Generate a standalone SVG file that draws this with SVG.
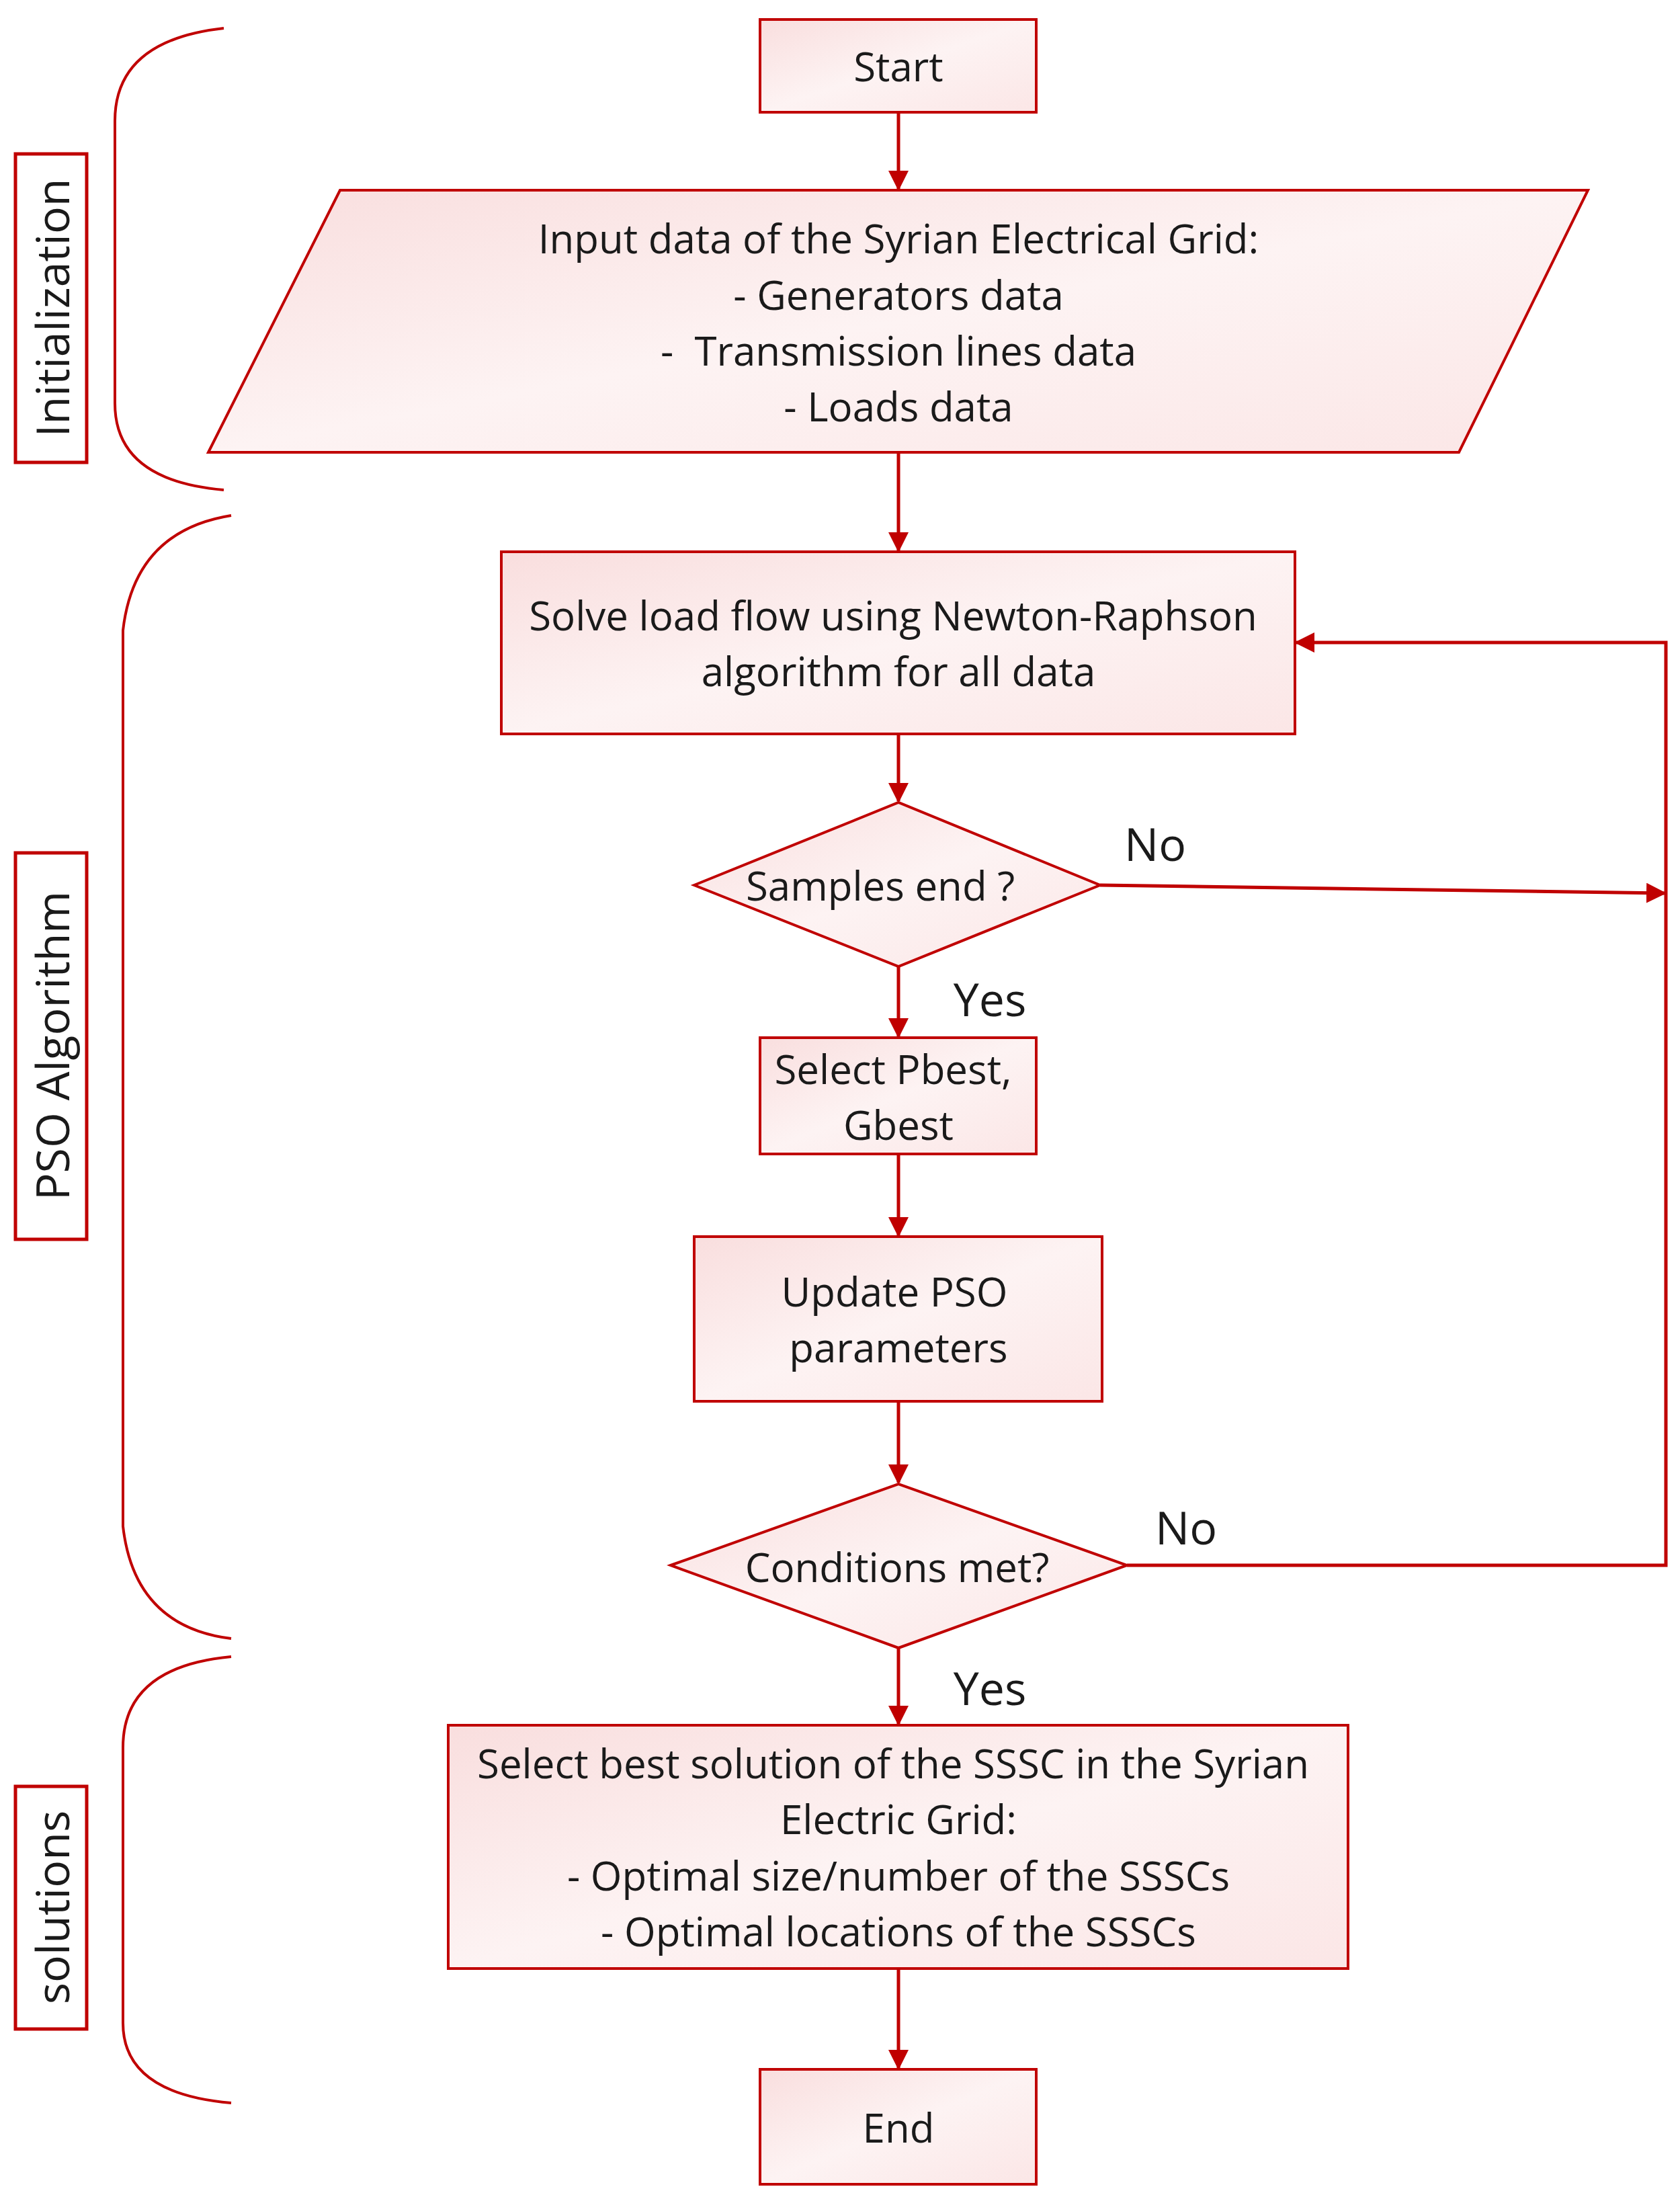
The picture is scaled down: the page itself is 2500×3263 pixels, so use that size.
<svg xmlns="http://www.w3.org/2000/svg" width="2500" height="3263" viewBox="0 0 2500 3263">
<defs>
<linearGradient id="g" x1="0" y1="0" x2="1" y2="1"><stop offset="0" stop-color="#f9dede"/><stop offset="0.5" stop-color="#fdf3f3"/><stop offset="1" stop-color="#fbe6e6"/></linearGradient>
<marker id="a" viewBox="0 0 10 10" refX="9" refY="5" markerWidth="6" markerHeight="6" orient="auto"><path d="M0,0 L10,5 L0,10 z" fill="#c00000"/></marker>
<style>
.n{fill:url(#g);stroke:#c00000;stroke-width:4}
.c{fill:none;stroke:#c00000;stroke-width:5}
.b{fill:none;stroke:#c00000;stroke-width:4}
.l{fill:#fff;stroke:#c00000;stroke-width:5}
text{font-family:"Open Sans","Liberation Sans",sans-serif;font-size:60px;fill:#1a1a1a;text-anchor:middle;dominant-baseline:central}
.s{font-size:68px}
</style>
</defs>
<rect width="2500" height="3263" fill="#fff"/>
<g id="brackets">
<path class="b" d="M333,42 Q171,60 171,180 L171,600 Q171,715 333,729"/>
<path class="b" d="M344,767 Q200,790 183,938 L183,2271 Q200,2420 344,2438"/>
<path class="b" d="M344,2465 Q183,2480 183,2600 L183,3010 Q183,3115 344,3129"/>
</g>
<g id="lab-init"><rect class="l" x="23" y="229" width="106" height="459"/><text class="s" transform="translate(76,458) rotate(-90)">Initialization</text></g>
<g id="lab-pso"><rect class="l" x="23" y="1269" width="106" height="575"/><text class="s" transform="translate(76,1556) rotate(-90)">PSO Algorithm</text></g>
<g id="lab-sol"><rect class="l" x="23" y="2658" width="106" height="361"/><text class="s" transform="translate(76,2838) rotate(-90)">solutions</text></g>
<g id="connectors">
<line class="c" x1="1337" y1="167" x2="1337" y2="281" marker-end="url(#a)"/>
<line class="c" x1="1337" y1="673" x2="1337" y2="819" marker-end="url(#a)"/>
<line class="c" x1="1337" y1="1092" x2="1337" y2="1192" marker-end="url(#a)"/>
<line class="c" x1="1337" y1="1438" x2="1337" y2="1542" marker-end="url(#a)"/>
<line class="c" x1="1337" y1="1717" x2="1337" y2="1838" marker-end="url(#a)"/>
<line class="c" x1="1337" y1="2085" x2="1337" y2="2206" marker-end="url(#a)"/>
<line class="c" x1="1337" y1="2452" x2="1337" y2="2565" marker-end="url(#a)"/>
<line class="c" x1="1337" y1="2929" x2="1337" y2="3077" marker-end="url(#a)"/>
<path class="c" d="M1637,1317 L2477,1329" marker-end="url(#a)"/>
<path class="c" d="M1677,2329 L2479,2329 L2479,956 L1929,956" marker-end="url(#a)"/>
<rect x="1640" y="1205" width="150" height="95" fill="#fff"/>
<text x="1719" y="1254" class="s">No</text>
<rect x="1685" y="2220" width="150" height="95" fill="#fff"/>
<text x="1765" y="2271" class="s">No</text>
<rect x="1395" y="1440" width="150" height="90" fill="#fff"/>
<text x="1473" y="1485" class="s">Yes</text>
<rect x="1395" y="2465" width="150" height="90" fill="#fff"/>
<text x="1473" y="2510" class="s">Yes</text>
</g>
<g id="start"><rect class="n" x="1131" y="29" width="411" height="138"/><text x="1337" y="98">Start</text></g>
<g id="input"><polygon class="n" points="506,283 2363,283 2171,673 310,673"/>
<text x="1337" y="354">Input data of the Syrian Electrical Grid:</text>
<text x="1337" y="438">- Generators data</text>
<text x="1337" y="521" xml:space="preserve">-  Transmission lines data</text>
<text x="1337" y="604">- Loads data</text></g>
<g id="solve"><rect class="n" x="746" y="821" width="1181" height="271"/><text x="1329" y="915">Solve load flow using Newton-Raphson</text><text x="1337" y="998">algorithm for all data</text></g>
<g id="samples"><polygon class="n" points="1033,1317 1337,1194 1637,1317 1337,1438"/><text x="1310" y="1317">Samples end ?</text></g>
<g id="select"><rect class="n" x="1131" y="1544" width="411" height="173"/><text x="1329" y="1590">Select Pbest,</text><text x="1337" y="1673">Gbest</text></g>
<g id="update"><rect class="n" x="1033" y="1840" width="607" height="245"/><text x="1331" y="1921">Update PSO</text><text x="1337" y="2004">parameters</text></g>
<g id="cond"><polygon class="n" points="998,2329 1337,2208 1677,2329 1337,2452"/><text x="1335" y="2331">Conditions met?</text></g>
<g id="best"><rect class="n" x="667" y="2567" width="1339" height="362"/>
<text x="1329" y="2623">Select best solution of the SSSC in the Syrian</text>
<text x="1337" y="2706">Electric Grid:</text>
<text x="1337" y="2790">- Optimal size/number of the SSSCs</text>
<text x="1337" y="2873">- Optimal locations of the SSSCs</text></g>
<g id="end"><rect class="n" x="1131" y="3079" width="411" height="171"/><text x="1337" y="3165">End</text></g>
</svg>
